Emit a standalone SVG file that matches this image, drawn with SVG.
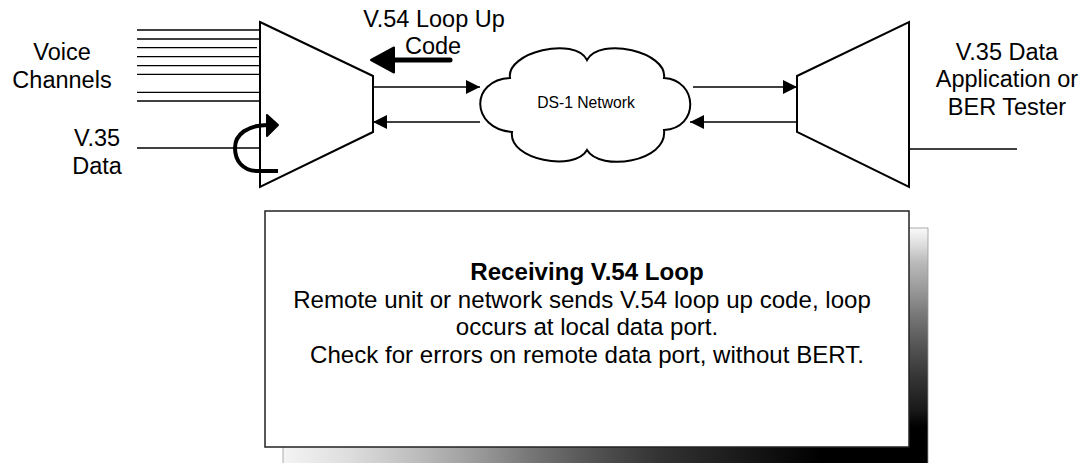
<svg xmlns="http://www.w3.org/2000/svg" width="1083" height="463" viewBox="0 0 1083 463">
  <style>
    .lbl { font-family: "Liberation Sans", Arial, sans-serif; font-size: 23.5px; fill: #000; text-anchor: middle; }
    .note { font-family: "Liberation Sans", Arial, sans-serif; font-size: 24.1px; fill: #000; text-anchor: middle; }
    .small { font-family: "Liberation Sans", Arial, sans-serif; font-size: 15.7px; fill: #000; text-anchor: middle; }
    .shape { fill: #fff; stroke: #000; stroke-width: 2; stroke-linejoin: miter; }
    .wire { stroke: #000; stroke-width: 1.3; fill: none; }
    .conn { stroke: #000; stroke-width: 1.5; fill: none; }
  </style>
  <defs>
    <marker id="ah" viewBox="0 0 14 14" refX="14" refY="7" markerWidth="14" markerHeight="14" markerUnits="userSpaceOnUse" orient="auto">
      <path d="M0,0 L14,7 L0,14 Z" fill="#000"/>
    </marker>
    <linearGradient id="shadowV" gradientUnits="userSpaceOnUse" x1="0" y1="228" x2="0" y2="427">
      <stop offset="0" stop-color="#fafafa"/>
      <stop offset="0.085" stop-color="#ddd"/>
      <stop offset="0.17" stop-color="#bbb"/>
      <stop offset="0.31" stop-color="#999"/>
      <stop offset="0.44" stop-color="#777"/>
      <stop offset="0.59" stop-color="#555"/>
      <stop offset="0.76" stop-color="#333"/>
      <stop offset="0.91" stop-color="#1a1a1a"/>
      <stop offset="1" stop-color="#000"/>
    </linearGradient>
    <linearGradient id="shadowH" gradientUnits="userSpaceOnUse" x1="283" y1="0" x2="820" y2="0">
      <stop offset="0" stop-color="#f4f4f4"/>
      <stop offset="0.125" stop-color="#ddd"/>
      <stop offset="0.255" stop-color="#bbb"/>
      <stop offset="0.367" stop-color="#999"/>
      <stop offset="0.46" stop-color="#777"/>
      <stop offset="0.57" stop-color="#555"/>
      <stop offset="0.7" stop-color="#333"/>
      <stop offset="0.85" stop-color="#1a1a1a"/>
      <stop offset="1" stop-color="#000"/>
    </linearGradient>
  </defs>

  <g id="voice-lines">
    <line class="wire" x1="137" y1="30" x2="260" y2="30"/>
    <line class="wire" x1="137" y1="39" x2="260" y2="39"/>
    <line class="wire" x1="137" y1="47.7" x2="257" y2="47.7"/>
    <line class="wire" x1="137" y1="56.7" x2="260" y2="56.7"/>
    <line class="wire" x1="137" y1="65.7" x2="260" y2="65.7"/>
    <line class="wire" x1="137" y1="74.3" x2="260" y2="74.3"/>
    <line class="wire" x1="137" y1="92.3" x2="260" y2="92.3"/>
    <line class="wire" x1="137" y1="101" x2="260" y2="101"/>
    <line class="wire" x1="137" y1="148" x2="260" y2="148"/>
  </g>

  <g id="mux-left">
    <polygon class="shape" points="260,22 373,76 373,132 260,187"/>
  </g>

  <g id="loop-arrow">
    <path d="M278,171 L258,171 C242,171 235,160 235,148 C235,134 248,125 268,125" fill="none" stroke="#000" stroke-width="4"/>
    <polygon points="278,125 267,115 267,136" fill="#000" stroke="#000" stroke-width="2" stroke-linejoin="round"/>
  </g>

  <g id="loopup-arrow">
    <line x1="450" y1="60" x2="392" y2="60" stroke="#000" stroke-width="5" stroke-linecap="round"/>
    <polygon points="371,60 394,47.5 394,72.5" fill="#000" stroke="#000" stroke-width="2" stroke-linejoin="round"/>
  </g>

  <g id="cloud">
    <path class="shape" d="M510,78 C506,52 575,36 587,60 C600,36 668,52 664,78 C698,80 700,128 664,130 C668,162 600,172 587,150 C575,172 508,160 512,132 C470,128 470,80 510,78 Z"/>
    <text class="small" x="586" y="108">DS-1 Network</text>
  </g>

  <g id="mux-right">
    <polygon class="shape" points="797,76 909,22 909,187 797,132"/>
    <line class="wire" x1="909" y1="149" x2="1017" y2="149"/>
  </g>

  <g id="connectors">
    <line class="conn" x1="373" y1="87" x2="480" y2="87" marker-end="url(#ah)"/>
    <line class="conn" x1="480" y1="122" x2="373" y2="122" marker-end="url(#ah)"/>
    <line class="conn" x1="693" y1="87" x2="797" y2="87" marker-end="url(#ah)"/>
    <line class="conn" x1="797" y1="122" x2="690" y2="122" marker-end="url(#ah)"/>
  </g>

  <g id="labels">
    <text class="lbl" x="62" y="60">Voice</text>
    <text class="lbl" x="62" y="87.5">Channels</text>
    <text class="lbl" x="97" y="146">V.35</text>
    <text class="lbl" x="97" y="174">Data</text>
    <text class="lbl" x="434" y="26.7">V.54 Loop Up</text>
    <text class="lbl" x="433" y="54">Code</text>
    <text class="lbl" x="1007" y="59.5">V.35 Data</text>
    <text class="lbl" x="1007" y="87">Application or</text>
    <text class="lbl" x="1007" y="114.5">BER Tester</text>
  </g>

  <g id="note">
    <rect x="909" y="228" width="19" height="240" fill="url(#shadowV)"/>
    <rect x="283" y="447" width="645" height="20" fill="url(#shadowH)"/>
    <rect x="909" y="427" width="19" height="40" fill="#000"/>
    <rect x="283" y="228" width="645" height="240" fill="none" stroke="#999" stroke-width="0.8"/>
    <rect x="265" y="211" width="644" height="236" fill="#fff" stroke="#222" stroke-width="1.5"/>
    <text class="note" x="587" y="280" font-weight="bold">Receiving V.54 Loop</text>
    <text class="note" x="582" y="307.5">Remote unit or network sends V.54 loop up code, loop</text>
    <text class="note" x="587" y="335">occurs at local data port.</text>
    <text class="note" x="587" y="362.5">Check for errors on remote data port, without BERT.</text>
  </g>
</svg>
